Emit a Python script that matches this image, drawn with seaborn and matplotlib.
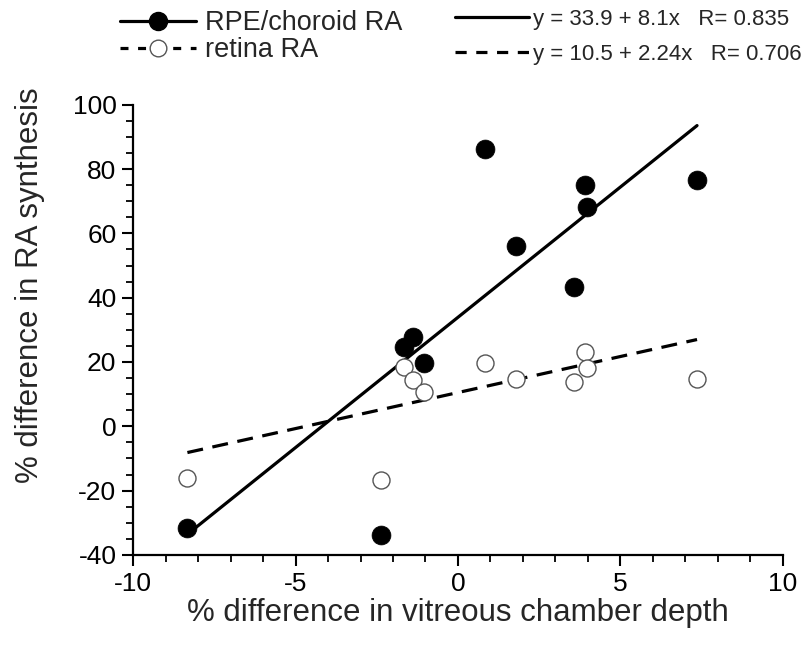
import numpy as np
import seaborn as sns
import matplotlib as mpl
import matplotlib.pyplot as plt
from matplotlib.lines import Line2D

sns.set_theme(style="ticks")
plt.rcParams['font.family'] = ['Liberation Sans', 'DejaVu Sans']
mpl.rcParams['axes.unicode_minus'] = False

# % difference in vitreous chamber depth (same eyes for both series)
depth = [-8.33, -2.38, -1.65, -1.39, -1.05, 0.82, 1.80, 3.57, 3.90, 3.96, 7.36]
# % difference in RA synthesis
rpe_ra = [-31.5, -33.9, 24.8, 27.7, 19.8, 86.2, 56.0, 43.3, 75.1, 68.2, 76.6]
retina_ra = [-16.1, -16.8, 18.4, 14.4, 10.8, 19.6, 14.7, 13.7, 23.2, 18.1, 14.7]

# regression fits as reported
rpe_fit = (33.9, 8.1, 0.835)
retina_fit = (10.5, 2.24, 0.706)

fig = plt.figure(figsize=(8.07, 6.67), dpi=100)
ax = fig.add_axes([0.165, 0.168, 0.805, 0.675])

xs = np.array([min(depth), max(depth)])
sns.lineplot(x=xs, y=rpe_fit[0] + rpe_fit[1] * xs, ax=ax, color='black', lw=2.3)
sns.lineplot(x=xs, y=retina_fit[0] + retina_fit[1] * xs, ax=ax, color='black', lw=2.3,
             linestyle=(0, (5, 3)))

sns.scatterplot(x=depth, y=rpe_ra, ax=ax, color='black', s=185, edgecolor='black',
                linewidth=0.5, zorder=3)
sns.scatterplot(x=depth, y=retina_ra, ax=ax, color='white', s=150, edgecolor='#555555',
                linewidth=1.0, zorder=3)

ax.set_xlim(-10, 10)
ax.set_ylim(-40, 100)
ax.set_xticks([-10, -5, 0, 5, 10])
ax.set_yticks(range(-40, 101, 20))
ax.xaxis.set_minor_locator(mpl.ticker.MultipleLocator(1))
ax.yaxis.set_minor_locator(mpl.ticker.MultipleLocator(5))
ax.tick_params(which='major', length=8, width=1.5, labelsize=19, color='black',
               labelcolor='black', pad=4)
ax.tick_params(which='minor', length=5, width=1.3, color='black')
for s in ['left', 'bottom']:
    ax.spines[s].set_linewidth(1.6)
    ax.spines[s].set_color('black')
sns.despine(ax=ax)

ax.set_xlabel('% difference in vitreous chamber depth', fontsize=22.5)
ax.set_ylabel('% difference in RA synthesis', fontsize=22.5)
ax.xaxis.set_label_coords(0.5, -0.095)
ax.yaxis.set_label_coords(-0.135, 0.6)

h1 = [Line2D([], [], color='black', lw=2.3, marker='o', markersize=13,
             markerfacecolor='black'),
      Line2D([], [], color='black', lw=2.3, linestyle=(0, (2.5, 3)), marker='o',
             markersize=12, markerfacecolor='white', markeredgecolor='#555555',
             markeredgewidth=1.0)]
fig.legend(h1, ['RPE/choroid RA', 'retina RA'], loc='upper left',
           bbox_to_anchor=(0.125, 1.013), frameon=False, fontsize=19.5,
           handlelength=2.8, handletextpad=0.35, labelspacing=0.03, borderpad=0.2)

h2 = [Line2D([], [], color='black', lw=2.3),
      Line2D([], [], color='black', lw=2.3, linestyle=(0, (3.5, 3)))]
labels2 = ['y = %.1f + %.1fx   R= %.3f' % rpe_fit,
           'y = %.1f + %.2fx   R= %.3f' % retina_fit]
fig.legend(h2, labels2, loc='upper left', bbox_to_anchor=(0.545, 1.01), frameon=False,
           fontsize=16, handlelength=3.3, handletextpad=0.2, labelspacing=0.62,
           borderpad=0.2)

fig.savefig('out.png', dpi=100)
